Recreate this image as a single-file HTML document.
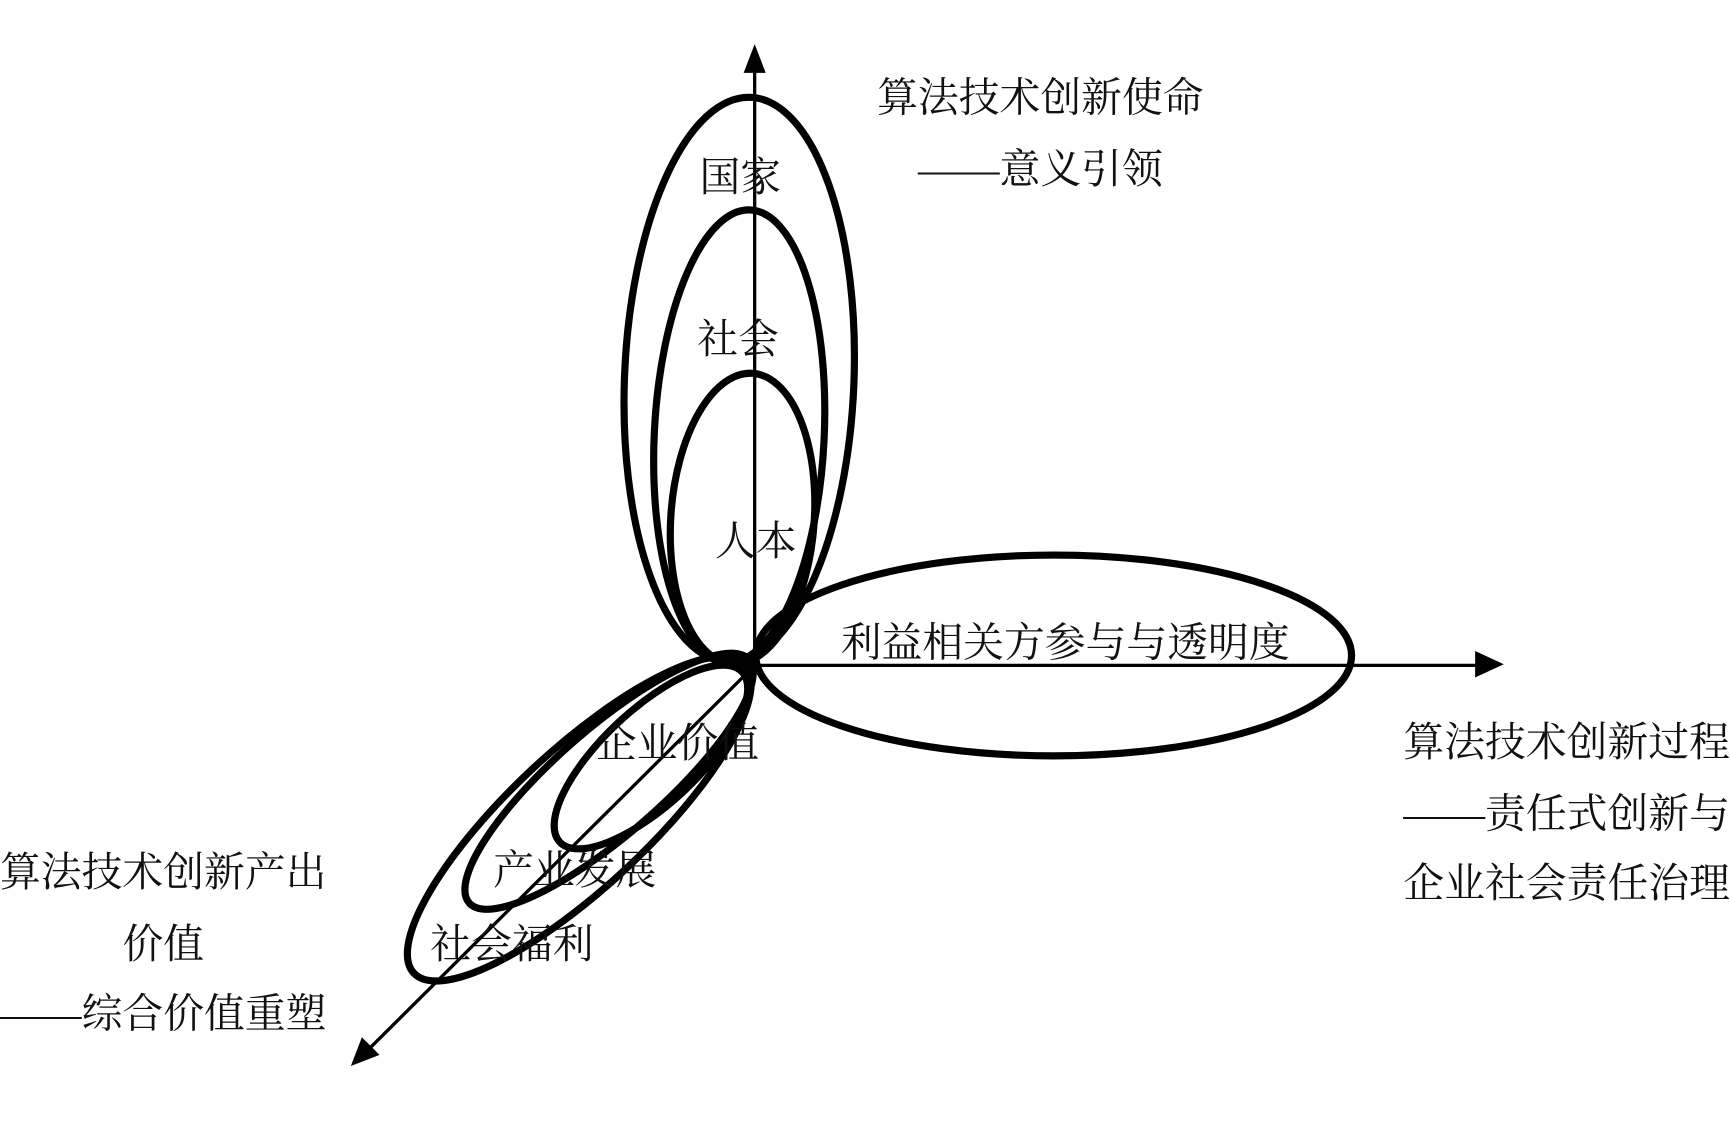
<!DOCTYPE html>
<html><head><meta charset="utf-8"><style>
html,body{margin:0;padding:0;background:#fff;}
svg{display:block;}
text{font-family:"Liberation Serif","Noto Serif CJK SC","Noto Sans CJK SC",serif;font-size:37px;fill:#111;}
</style></head><body>
<svg width="1730" height="1141" viewBox="0 0 1568 1034" preserveAspectRatio="none" xmlns="http://www.w3.org/2000/svg">
<g stroke="#000" stroke-width="3" fill="none">
<line x1="684" y1="603" x2="684" y2="60"/>
<line x1="684" y1="603" x2="1340" y2="603"/>
<line x1="684" y1="603" x2="330" y2="955"/>
</g>
<polygon points="684,40 674,66 694,66" fill="#000"/>
<polygon points="1363,602 1337,590 1337,614" fill="#000"/>
<polygon points="318,966 328,940 344,956" fill="#000"/>
<g stroke="#000" stroke-width="6.5" fill="none">
<ellipse cx="670" cy="344" rx="104" ry="256" transform="rotate(2.3 670 344)"/>
<ellipse cx="670" cy="395" rx="77" ry="205" transform="rotate(2.8 670 395)"/>
<ellipse cx="673" cy="470" rx="65" ry="132" transform="rotate(4 673 470)"/>
<ellipse cx="955" cy="594" rx="270" ry="91"/>
<ellipse cx="525" cy="742" rx="205" ry="62" transform="rotate(-43 525 742)"/>
<ellipse cx="552" cy="708" rx="168" ry="48" transform="rotate(-41 552 708)"/>
<ellipse cx="590" cy="686" rx="113" ry="43" transform="rotate(-43 590 686)"/>
</g>
<text x="795" y="101">算法技术创新使命</text>
<text x="832" y="166">——意义引领</text>
<text x="634" y="173">国家</text>
<text x="632" y="320">社会</text>
<text x="648" y="503">人本</text>
<text x="762" y="595">利益相关方参与与透明度</text>
<text x="540" y="686">企业价值</text>
<text x="447" y="801">产业发展</text>
<text x="390" y="868">社会福利</text>
<text x="1272" y="685">算法技术创新过程</text>
<text x="1272" y="750">——责任式创新与</text>
<text x="1272" y="813">企业社会责任治理</text>
<text x="0" y="803">算法技术创新产出</text>
<text x="148" y="868" text-anchor="middle">价值</text>
<text x="0" y="931">——综合价值重塑</text>
</svg>
</body></html>
